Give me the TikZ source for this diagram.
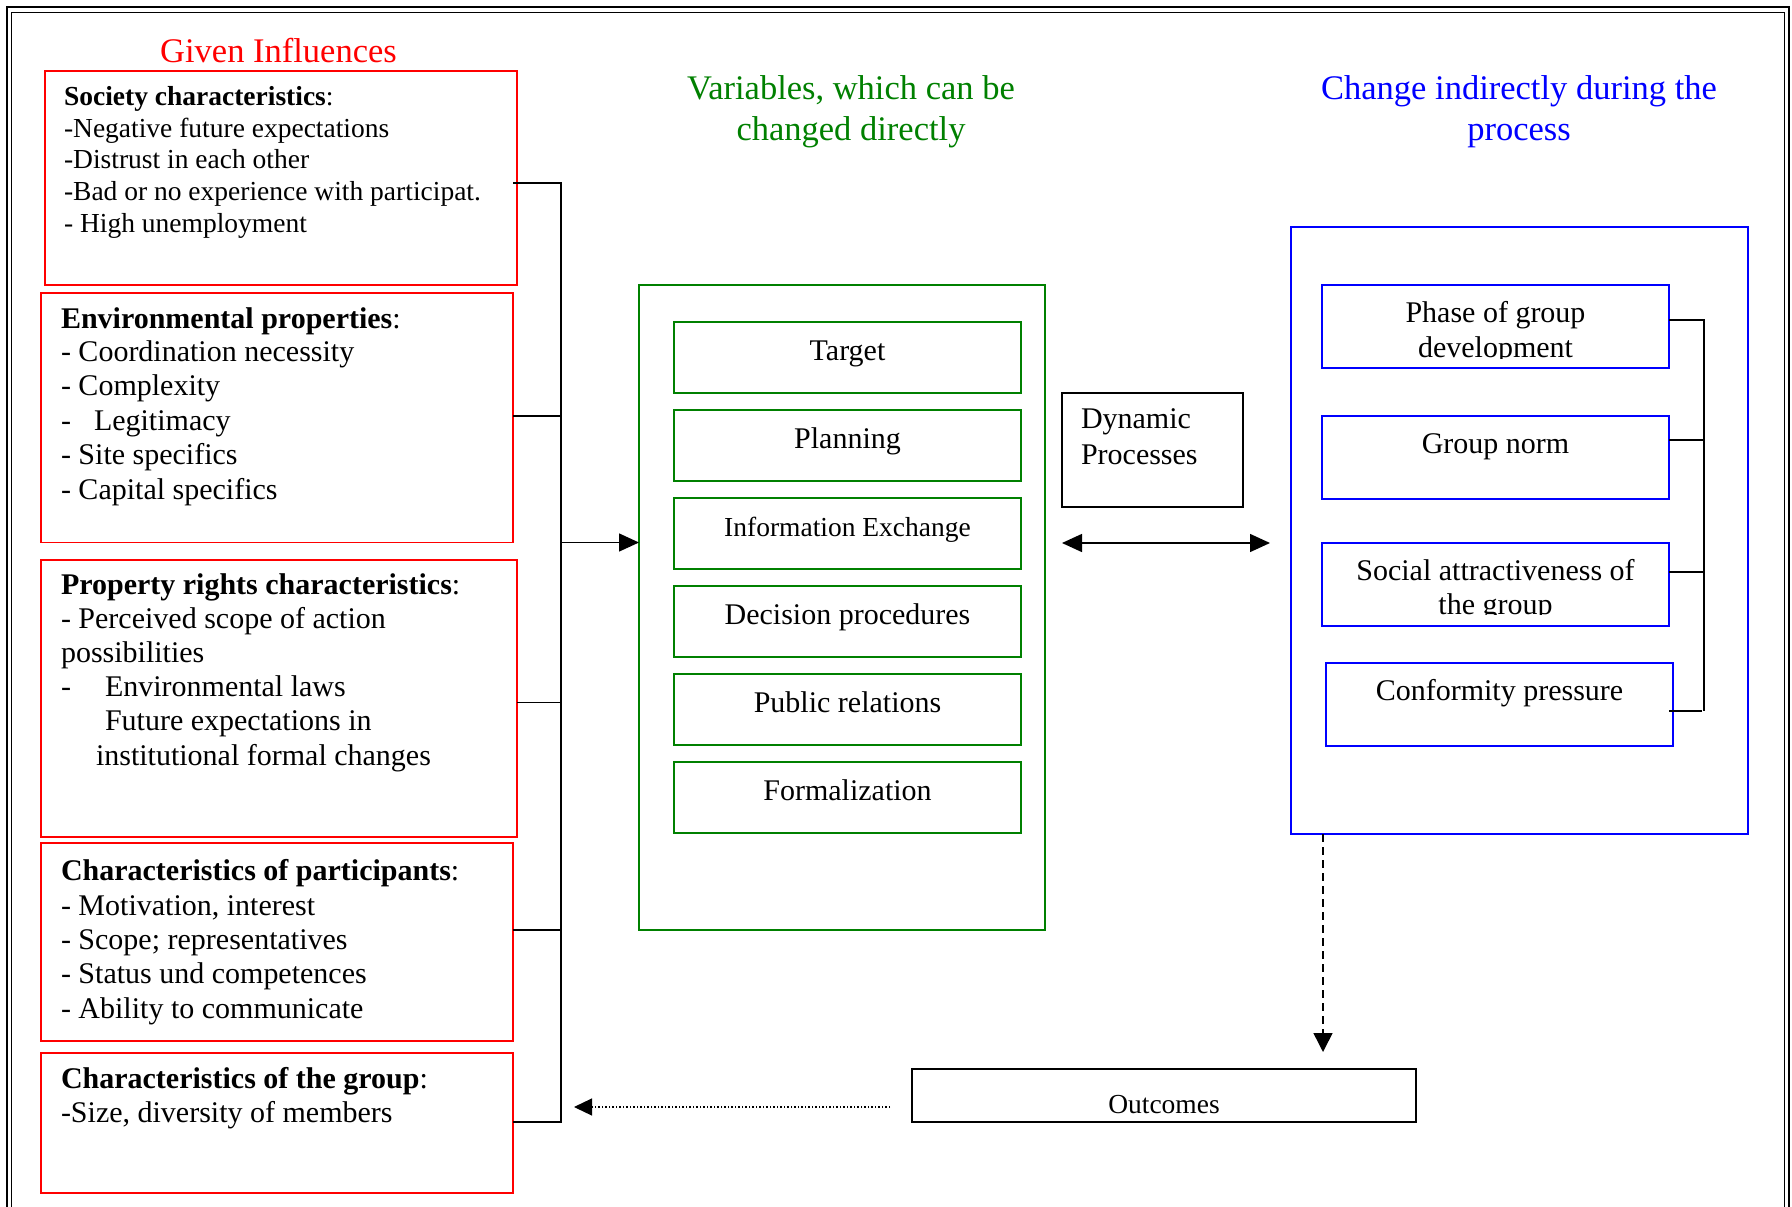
\documentclass[tikz,border=0pt]{standalone}
\usepackage{fontspec}
\setmainfont{Liberation Serif}
\usetikzlibrary{arrows.meta,fit}
\definecolor{rd}{RGB}{255,0,0}
\definecolor{gr}{RGB}{0,128,0}
\definecolor{bl}{RGB}{0,0,255}
\newcommand\ltx[5]{\node[#1, anchor=base west] (#2) at (#3,#4) {#5};}
\newcommand\ctx[5]{\node[#1, anchor=base] (#2) at (#3,#4) {#5};}
\newcommand\mybox[6]{\node[#1, fit={(#3,#4) (#5,#6)}] (#2) {};}
\begin{document}
\begin{tikzpicture}[x=1pt,y=-1pt,
  bx/.style={draw, line width=1.6pt, inner sep=0pt, outer sep=0pt},
  rbx/.style={bx, draw=rd},
  gbx/.style={bx, draw=gr},
  bbx/.style={bx, draw=bl},
  kbx/.style={bx, draw=black},
  tx/.style={inner sep=0pt, outer sep=0pt, font=\fontsize{30}{36}\selectfont},
  tsm/.style={inner sep=0pt, outer sep=0pt, font=\fontsize{27.5}{32}\selectfont},
  ttl/.style={inner sep=0pt, outer sep=0pt, font=\fontsize{34.5}{41}\selectfont},
  wire/.style={line width=1.5pt, draw=black},
  tipA/.style={-{Triangle[length=20pt,width=18pt]}},
]
\useasboundingbox (0,0) rectangle (1792,1207);
% frame
\draw[line width=2pt] (7,1207) -- (7,7) -- (1789,7) -- (1789,1207);
\draw[line width=1.6pt] (11.5,1207) -- (11.5,12.5) -- (1784.5,12.5) -- (1784.5,1207);

% titles
\ctx{ttl, text=rd}{tGI}{278.5}{63}{Given Influences}
\ctx{ttl, text=gr}{tV1}{851}{99.5}{Variables, which can be}
\ctx{ttl, text=gr}{tV2}{851}{140.5}{changed directly}
\ctx{ttl, text=bl}{tC1}{1519}{99.5}{Change indirectly during the}
\ctx{ttl, text=bl}{tC2}{1519}{140.5}{process}

% left red boxes
\mybox{rbx}{soc}{45}{71}{517}{285}
\ltx{tsm}{s1}{64}{106}{\textbf{Society characteristics}:}
\ltx{tsm}{s2}{64}{137}{-Negative future expectations}
\ltx{tsm}{s3}{64}{168}{-Distrust in each other}
\ltx{tsm}{s4}{64}{200}{-Bad or no experience with participat.}
\ltx{tsm}{s5}{64}{232}{- High unemployment}

\mybox{rbx}{env}{41}{293}{513}{542.5}
\ltx{tx}{e1}{61}{328}{\textbf{Environmental properties}:}
\ltx{tx}{e2}{61}{361}{- Coordination necessity}
\ltx{tx}{e3}{61}{395}{- Complexity}
\ltx{tx}{e4a}{61}{430}{-}
\ltx{tx}{e4b}{94}{430}{Legitimacy}
\ltx{tx}{e5}{61}{464}{- Site specifics}
\ltx{tx}{e6}{61}{499}{- Capital specifics}

\mybox{rbx}{prop}{41}{560}{517}{837}
\ltx{tx}{p1}{61}{594}{\textbf{Property rights characteristics}:}
\ltx{tx}{p2}{61}{628}{- Perceived scope of action}
\ltx{tx}{p3}{61}{662}{possibilities}
\ltx{tx}{p4a}{61}{696}{-}
\ltx{tx}{p4b}{105}{696}{Environmental laws}
\ltx{tx}{p5}{105}{730}{Future expectations in}
\ltx{tx}{p6}{96}{765}{institutional formal changes}

\mybox{rbx}{part}{41}{843}{513}{1041}
\ltx{tx}{q1}{61}{880}{\textbf{Characteristics of participants}:}
\ltx{tx}{q2}{61}{915}{- Motivation, interest}
\ltx{tx}{q3}{61}{949}{- Scope; representatives}
\ltx{tx}{q4}{61}{983}{- Status und competences}
\ltx{tx}{q5}{61}{1018}{- Ability to communicate}

\mybox{rbx}{grp}{41}{1053}{513}{1193}
\ltx{tx}{g1}{61}{1088}{\textbf{Characteristics of the group}:}
\ltx{tx}{g2}{61}{1122}{-Size, diversity of members}

% left bracket
\coordinate (bT) at (561,183);
\coordinate (bB) at (561,1122);
\coordinate (bM) at (561,542.5);
\draw[wire] ([xshift=-4pt]soc.east |- bT) -- (bT) -- (bB) -- (grp.east |- bB);
\draw[wire] (env.east |- 0,416) -- (561,416);
\draw[wire] (prop.east |- 0,702.5) -- (561,702.5);
\draw[wire] (part.east |- 0,930) -- (561,930);

% green box
\mybox{gbx}{var}{639}{285}{1045}{930}
\draw[wire, tipA] (bM) -- (var.west |- bM);
\mybox{gbx}{vt}{674}{322}{1021}{393}
\mybox{gbx}{vp}{674}{410}{1021}{481}
\mybox{gbx}{vi}{674}{498}{1021}{569}
\mybox{gbx}{vd}{674}{586}{1021}{657}
\mybox{gbx}{vr}{674}{674}{1021}{745}
\mybox{gbx}{vf}{674}{762}{1021}{833}
\ctx{tx}{vt1}{847.5}{360}{Target}
\ctx{tx}{vp1}{847.5}{448}{Planning}
\ctx{tsm}{vi1}{847.5}{536}{Information Exchange}
\ctx{tx}{vd1}{847.5}{624}{Decision procedures}
\ctx{tx}{vr1}{847.5}{712}{Public relations}
\ctx{tx}{vf1}{847.5}{800}{Formalization}

% dynamic processes
\mybox{kbx}{dyn}{1062}{393}{1243}{507}
\ltx{tx}{dy1}{1081}{428}{Dynamic}
\ltx{tx}{dy2}{1081}{464}{Processes}
\coordinate (daL) at (1062,543);
\coordinate (daR) at (1270,543);
\draw[wire, {Triangle[length=20pt,width=18pt]}-{Triangle[length=20pt,width=18pt]}] (daL) -- (daR);

% blue box
\mybox{bbx}{chg}{1291}{227}{1748}{834}
\mybox{bbx}{ph}{1322}{285}{1669}{368}
\mybox{bbx}{gn}{1322}{416}{1669}{499}
\mybox{bbx}{sa}{1322}{543}{1669}{626}
\mybox{bbx}{cp}{1326}{663}{1673}{746}
\begin{scope}
\clip (1322,280) rectangle (1669,358);
\ctx{tx}{ph1}{1495.5}{322}{Phase of group}
\ctx{tx}{ph2}{1495.5}{357}{development}
\end{scope}
\ctx{tx}{gn1}{1495.5}{453}{Group norm}
\begin{scope}
\clip (1322,540) rectangle (1669,614);
\ctx{tx}{sa1}{1495.5}{580}{Social attractiveness of}
\ctx{tx}{sa2}{1495.5}{614}{the group}
\end{scope}
\ctx{tx}{cp1}{1499.5}{700}{Conformity pressure}

% right bracket
\coordinate (rT) at (1704,319);
\coordinate (rB) at (1704,711);
\draw[wire] (ph.east |- 0,320) -- (1704,320);
\draw[wire] (rT) -- (rB);
\draw[wire] (gn.east |- 0,440) -- (1704,440);
\draw[wire] (sa.east |- 0,572) -- (1704,572);
\draw[wire] ([xshift=-4pt]cp.east |- rB) -- (1702,711);

% outcomes
\mybox{kbx}{out}{912}{1069}{1416}{1122}
\ctx{tsm}{out1}{1164}{1113}{Outcomes}
\coordinate (dsT) at (1323,834);
\coordinate (dsB) at (1323,1052);
\draw[wire, dash pattern=on 8pt off 5pt, -{Triangle[length=19pt,width=19pt]}] (dsT) -- (dsB);
\coordinate (dtS) at (890,1107);
\coordinate (dtE) at (574,1107);
\draw[line width=1.2pt, dash pattern=on 1.5pt off 2pt, -{Triangle[length=18pt,width=17pt]}] (dtS) -- (dtE);
\end{tikzpicture}
\end{document}
